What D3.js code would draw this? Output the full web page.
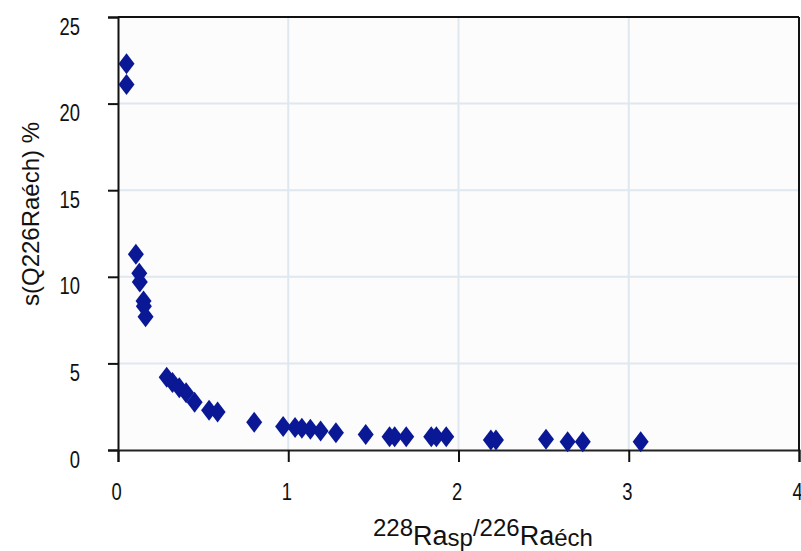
<!DOCTYPE html>
<html>
<head>
<meta charset="utf-8">
<script src="https://cdn.jsdelivr.net/npm/d3@7"></script>
<style>
  html, body { margin: 0; padding: 0; background: #ffffff; }
  svg { display: block; }
</style>
</head>
<body>
<svg id="chart" width="801" height="551"></svg>
<script>
// ---- data ----
const ratioX = [0.05, 0.05, 0.105, 0.125, 0.128, 0.15, 0.152, 0.162,
  0.286, 0.32, 0.36, 0.40, 0.45, 0.535, 0.585, 0.80,
  0.97, 1.04, 1.08, 1.13, 1.19, 1.28,
  1.455, 1.595, 1.625, 1.693, 1.84, 1.87, 1.928,
  2.19, 2.22, 2.514, 2.641, 2.73, 3.07];
const uncertaintyY = [22.3, 21.1, 11.3, 10.2, 9.7, 8.6, 8.3, 7.7,
  4.2, 3.9, 3.6, 3.3, 2.75, 2.3, 2.2, 1.6,
  1.35, 1.3, 1.25, 1.2, 1.1, 1.0,
  0.9, 0.77, 0.77, 0.77, 0.77, 0.77, 0.77,
  0.58, 0.58, 0.62, 0.48, 0.48, 0.48];
const xTicks = [0, 1, 2, 3, 4];
const yTicks = [0, 5, 10, 15, 20, 25];

// ---- layout ----
const svg = d3.select("#chart");
const L = 118, R = 799, T = 17, B = 450;
const x = d3.scaleLinear().domain([0, 4]).range([L, R]);
const y = d3.scaleLinear().domain([0, 25]).range([B, T]);
const sans = "'Liberation Sans', Arial, sans-serif";
const sx = 0.8; // horizontal condensing of tick labels

// plot background
svg.append("rect").attr("x", L).attr("y", T).attr("width", R - L).attr("height", B - T)
  .attr("fill", "#fcfcfc");

// gridlines
svg.append("g").selectAll("line").data(xTicks.filter(d => d > 0 && d < 4)).join("line")
  .attr("x1", d => x(d)).attr("x2", d => x(d)).attr("y1", T).attr("y2", B)
  .attr("stroke", "#dfe7ef").attr("stroke-width", 2);
svg.append("g").selectAll("line").data(yTicks.filter(d => d > 0 && d < 25)).join("line")
  .attr("x1", L).attr("x2", R).attr("y1", d => y(d)).attr("y2", d => y(d))
  .attr("stroke", "#dfe7ef").attr("stroke-width", 2);

// axes
const yAxis = d3.axisLeft(y).tickValues(yTicks).tickSize(10).tickFormat(d3.format("d"));
const gy = svg.append("g").attr("transform", `translate(${L},0)`).call(yAxis);
gy.select(".domain").attr("stroke", "#111").attr("stroke-width", 2);
gy.selectAll(".tick line").attr("stroke", "#111").attr("stroke-width", 2);
gy.selectAll(".tick text").attr("x", -38 / sx).attr("dy", "0.35em")
  .attr("transform", `translate(0,9) scale(${sx},1)`)
  .style("font-family", sans).style("font-size", "23px").attr("fill", "#111");

const xAxis = d3.axisBottom(x).tickValues(xTicks).tickSize(12).tickFormat(d3.format("d"));
const gx = svg.append("g").attr("transform", `translate(0,${B})`).call(xAxis);
gx.select(".domain").attr("stroke", "#222").attr("stroke-width", 2);
gx.selectAll(".tick line").attr("stroke", "#111").attr("stroke-width", 2);
gx.selectAll(".tick text").attr("y", 0).attr("dy", 0)
  .attr("transform", `translate(-2,50) scale(${sx},1)`)
  .style("font-family", sans).style("font-size", "23px").attr("fill", "#111");

// top and right frame
svg.append("line").attr("x1", L).attr("x2", R).attr("y1", T).attr("y2", T)
  .attr("stroke", "#111").attr("stroke-width", 2);
svg.append("line").attr("x1", R).attr("x2", R).attr("y1", T).attr("y2", B)
  .attr("stroke", "#111").attr("stroke-width", 2);

// points (diamonds)
const pts = ratioX.map((v, i) => ({ x: v, y: uncertaintyY[i] }));
svg.append("g").selectAll("path").data(pts).join("path")
  .attr("d", "M0,-10.5L8,0L0,10.5L-8,0Z")
  .attr("transform", d => `translate(${x(d.x)},${y(d.y)})`)
  .attr("fill", "#0b1896");

// y title
svg.append("text")
  .attr("transform", "translate(39,214) rotate(-90)")
  .attr("text-anchor", "middle")
  .style("font-family", sans).style("font-size", "24px").attr("fill", "#111")
  .text("s(Q226Raéch) %");

// x title with super/subscripts
const xt = svg.append("text").attr("x", 373).attr("y", 545)
  .style("font-family", sans).attr("fill", "#111");
xt.append("tspan").attr("dy", -9).style("font-size", "24px").text("228");
xt.append("tspan").attr("dy", 9).style("font-size", "27px").text("Ra");
xt.append("tspan").attr("dy", 1).style("font-size", "24px").text("sp");
xt.append("tspan").attr("dy", -10).style("font-size", "24px").text("/226");
xt.append("tspan").attr("dy", 9).style("font-size", "27px").text("Ra");
xt.append("tspan").attr("dy", 1).style("font-size", "24px").text("éch");
</script>
</body>
</html>
